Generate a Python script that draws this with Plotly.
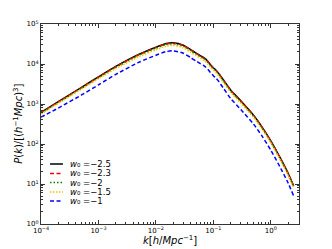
import plotly.graph_objects as go

# wavenumbers k [h/Mpc]
k = [1e-4, 2e-4, 5e-4, 1e-3, 2e-3, 5e-3, 0.01, 0.015, 0.02, 0.03, 0.04, 0.05,
     0.06, 0.07, 0.08, 0.09, 0.1, 0.11, 0.12, 0.15, 0.2, 0.3, 0.5, 0.7, 1.0,
     1.5, 2.0, 2.5]

P_w25 = [617, 1148, 2570, 4786, 8710, 17380, 26300, 32360, 33880, 29510, 23000,
         18800, 16000, 14000, 11700, 9500, 8100, 7100, 6170, 3980, 2240, 1202,
         525, 269, 120, 41.7, 18.6, 8.9]
P_w23 = [603, 1122, 2511, 4676, 8510, 16980, 25700, 31620, 33100, 28830, 22470,
         18370, 15630, 13680, 11430, 9280, 7910, 6940, 6030, 3890, 2190, 1174,
         513, 263, 117, 40.7, 18.2, 8.7]
P_w20 = [582, 1084, 2426, 4518, 8222, 16410, 24830, 30550, 31980, 27860, 21710,
         17750, 15100, 13220, 11040, 8970, 7650, 6700, 5820, 3760, 2115, 1135,
         496, 254, 113, 39.4, 17.6, 8.4]
P_w15 = [563, 1047, 2340, 4300, 7660, 15120, 22620, 27830, 29140, 25380, 19780,
         16170, 13760, 12040, 10060, 8170, 6970, 6110, 5310, 3440, 1950, 1054,
         462, 238, 107, 37.1, 16.6, 7.9]
P_w10 = [469, 792, 1660, 3015, 5490, 10950, 16570, 20390, 21340, 18590, 14490,
         11840, 10080, 8820, 7370, 5990, 5100, 4470, 3890, 2470, 1370, 727,
         315, 159, 70, 24.0, 10.6, 5.0]

labels = ["\u22122.5", "\u22122.3", "\u22122", "\u22121.5", "\u22121"]
series = [P_w25, P_w23, P_w20, P_w15, P_w10]
colors = ["#000000", "#ff0000", "#008000", "#ffbf00", "#0000ff"]
dashes = ["solid", "4px,2.5px", "1.5px,2px", "1.5px,1.5px", "4px,2.5px"]

x_ticks = [1e-4, 1e-3, 1e-2, 1e-1, 1]
x_ticktext = ["10<sup>\u22124</sup>", "10<sup>\u22123</sup>", "10<sup>\u22122</sup>",
              "10<sup>\u22121</sup>", "10<sup>0</sup>"]
y_ticks = [1, 10, 100, 1e3, 1e4, 1e5]
y_ticktext = ["10<sup>0</sup>", "10<sup>1</sup>", "10<sup>2</sup>",
              "10<sup>3</sup>", "10<sup>4</sup>", "10<sup>5</sup>"]

fig = go.Figure()
for P, c, d in zip(series, colors, dashes):
    fig.add_trace(go.Scatter(x=k, y=P, mode="lines", line_shape="spline",
                             line=dict(color=c, width=1.5, dash=d, smoothing=0.6),
                             showlegend=False))

# manual legend
row_y = [0.30, 0.253, 0.207, 0.16, 0.115]
for lab, c, d, yy in zip(labels, colors, dashes, row_y):
    fig.add_shape(type="line", xref="paper", yref="paper",
                  x0=0.035, x1=0.085, y0=yy, y1=yy,
                  line=dict(color=c, width=1.5, dash=d))
    fig.add_annotation(xref="paper", yref="paper", x=0.105, y=yy,
                       text="<i>w</i>\u2080 =" + lab, showarrow=False,
                       xanchor="left", yanchor="middle",
                       font=dict(size=8.5, color="black", family="DejaVu Sans"))

# axis titles
fig.add_annotation(xref="paper", yref="paper", x=0.5, y=-0.08,
                   text="<i>k</i>[<i>h</i>/<i>Mpc</i><sup>\u22121</sup>]",
                   showarrow=False, xanchor="center", yanchor="middle",
                   font=dict(size=10, family="DejaVu Sans", color="black"))
fig.add_annotation(xref="paper", yref="paper", x=-0.09, y=0.5, textangle=-90,
                   text="<i>P</i>(<i>k</i>)/[(<i>h</i><sup>\u22121</sup><i>Mpc</i>)<sup>3</sup>]",
                   showarrow=False, xanchor="center", yanchor="middle",
                   font=dict(size=10, family="DejaVu Sans", color="black"))

minor_x = [m * 10.0 ** e for e in range(-4, 1) for m in range(2, 10)]
minor_y = [m * 10.0 ** e for e in range(0, 5) for m in range(2, 10)]

axis_common = dict(showgrid=False, zeroline=False, showline=True,
                   linecolor="#333333", linewidth=1, mirror="ticks",
                   ticks="inside", ticklen=4, tickcolor="#333333",
                   tickfont=dict(size=7, family="DejaVu Sans", color="black"))

fig.update_xaxes(type="log", range=[-4, 0.49], tickmode="array",
                 tickvals=x_ticks, ticktext=x_ticktext,
                 minor=dict(ticks="inside", ticklen=2, tickcolor="#333333",
                            tickmode="array", tickvals=minor_x, showgrid=False),
                 **axis_common)
fig.update_yaxes(type="log", range=[0, 5], tickmode="array",
                 tickvals=y_ticks, ticktext=y_ticktext,
                 minor=dict(ticks="inside", ticklen=2, tickcolor="#333333",
                            tickmode="array", tickvals=minor_y, showgrid=False),
                 **axis_common)

fig.update_layout(width=332, height=249,
                  margin=dict(l=41, r=33, t=24, b=25),
                  paper_bgcolor="white", plot_bgcolor="white",
                  showlegend=False)

fig.write_html("out.html", config={"displayModeBar": False},
               post_script="document.body.style.margin='0';document.body.style.padding='0';")
